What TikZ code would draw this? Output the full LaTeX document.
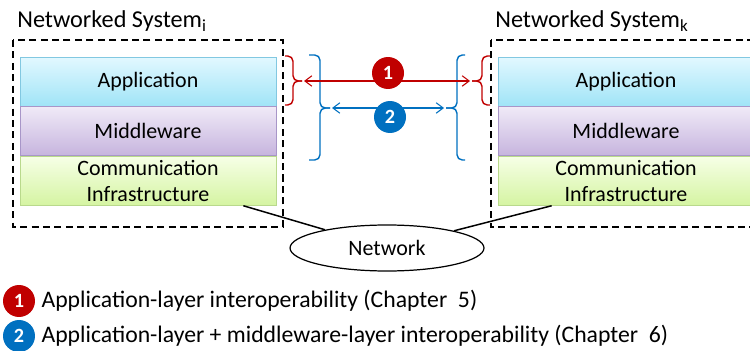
\documentclass[tikz,border=0pt]{standalone}
\usepackage{fontspec}
\setmainfont{Carlito}
\usepackage{xcolor}
\usetikzlibrary{positioning,shapes.geometric,arrows.meta}
\definecolor{ncred}{RGB}{192,0,0}
\definecolor{ncblue}{RGB}{0,112,192}
\definecolor{apptop}{RGB}{226,248,255}
\definecolor{appbot}{RGB}{160,228,247}
\definecolor{appline}{RGB}{130,200,225}
\definecolor{midtop}{RGB}{240,234,247}
\definecolor{midbot}{RGB}{198,180,222}
\definecolor{midline}{RGB}{168,150,200}
\definecolor{comtop}{RGB}{246,255,230}
\definecolor{combot}{RGB}{213,244,162}
\definecolor{comline}{RGB}{185,217,140}
\tikzset{>={Straight Barb[length=4pt,width=6pt]}}

\begin{document}
\begin{tikzpicture}[x=0.02cm,y=-0.02cm,font=\fontsize{12.5}{15}\selectfont,
  layer/.style={draw,minimum width=5.12cm,minimum height=0.98cm,inner sep=0pt,align=center},
  sysbox/.style={dash pattern=on 4pt off 2.5pt,line width=1.1pt},
  bracket/.style={rounded corners=3pt,line width=0.8pt},
  num/.style={circle,minimum size=0.64cm,inner sep=0pt,text=white,font=\fontsize{11.5}{13}\selectfont\bfseries},
  legend/.style={font=\fontsize{13.5}{16}\selectfont}]
\useasboundingbox (0,0) rectangle (750,351);

\foreach \x/\s in {148/i,626/k} {
\draw[sysbox] (\x-135,40) rectangle (\x+135,227);
\node[anchor=base west,inner sep=0pt,font=\fontsize{13.8}{16}\selectfont] (title\s) at (\x-131,28) {Networked System\textsubscript{\s}};
\node[layer,draw=appline,top color=apptop,bottom color=appbot] (app\s) at (\x,81.5) {Application};
\node[layer,draw=midline,top color=midtop,bottom color=midbot,below=0pt of app\s] (mid\s) {Middleware};
\node[layer,draw=comline,top color=comtop,bottom color=combot,below=0pt of mid\s] (com\s) {Communication\\Infrastructure};
};

\node[ellipse,draw,line width=0.7pt,minimum width=3.88cm,minimum height=0.92cm] (net) at (387,248) {Network};
\draw[line width=0.85pt] ([xshift=-0.66cm]comi.south east) -- (net);
\draw[line width=0.85pt] ([xshift=1.08cm]comk.south west) -- (net);

\foreach \col/\xa/\xv/\xb/\ya/\ym/\yb in {ncred/285/293/302/56/81/105, ncred/490/482/472/56/81/105, ncblue/309/320/330/55/108/160, ncblue/465/457/446/55/108/160} {
\draw[\col,bracket] (\xa,\ya) -| (\xv,\ym) -- (\xb,\ym);
\draw[\col,bracket] (\xa,\yb) -| (\xv,\ym) -- (\xb,\ym);
};

\coordinate (ri) at (304,81);
\coordinate (rk) at (470,81);
\coordinate (bi) at (332,108);
\coordinate (bk) at (444,108);
\draw[<->,ncred,line width=0.6pt] (ri) -- (rk);
\draw[<->,ncblue,line width=0.6pt] (bi) -- (bk);
\node[num,fill=ncred] (c1) at (388,73) {1};
\node[num,fill=ncblue] (c2) at (390,117) {2};

\node[num,fill=ncred] (lg1) at (19,301) {1};
\node[num,fill=ncblue] (lg2) at (19,336) {2};
\node[legend,right=0pt of lg1] (lt1) {Application-layer interoperability (Chapter\ \ 5)};
\node[legend,right=0pt of lg2] (lt2) {Application-layer + middleware-layer interoperability (Chapter\ \ 6)};
\end{tikzpicture}
\end{document}
